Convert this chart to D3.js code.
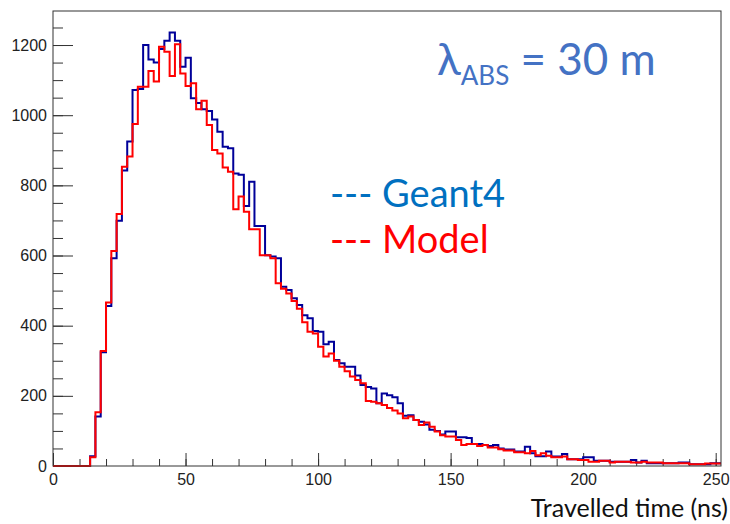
<!DOCTYPE html>
<html>
<head>
<meta charset="utf-8">
<script src="https://cdn.jsdelivr.net/npm/d3@7"></script>
<style>
  body { margin: 0; background: #fff; }
  .tick text { font-family: "Liberation Sans", Arial, sans-serif; font-size: 16px; fill: #222; }
</style>
</head>
<body>
<svg id="chart" width="730" height="524"></svg>
<script>
// histogram content, 2 ns bins starting at 0
var binWidth = 2;
var geant4 = [
  0, 0, 0, 0, 0, 0, 0, 28, 141, 324,
  456, 592, 699, 842, 925, 1072, 1075, 1200, 1159, 1150,
  1189, 1212, 1236, 1212, 1138, 1164, 1048, 1035, 1017, 1012,
  988, 953, 910, 906, 834, 830, 741, 810, 684, 684,
  601, 597, 592, 511, 502, 478, 459, 430, 421, 385,
  383, 347, 354, 302, 293, 283, 283, 258, 231, 225,
  221, 179, 207, 202, 196, 179, 143, 145, 131, 126,
  118, 103, 100, 90, 98, 98, 82, 82, 80, 63,
  63, 60, 57, 60, 50, 47, 47, 41, 41, 55,
  36, 28, 28, 41, 27, 27, 34, 19, 19, 19,
  25, 25, 15, 15, 15, 12, 12, 12, 12, 17,
  10, 15, 8, 8, 8, 8, 8, 8, 10, 10,
  5, 5, 5, 5, 8, 8
];
var model = [
  0, 0, 0, 0, 0, 0, 0, 25, 153, 328,
  466, 613, 718, 853, 882, 975, 1081, 1081, 1126, 1096,
  1195, 1181, 1112, 1202, 1119, 1083, 1091, 1017, 1041, 972,
  901, 891, 851, 839, 732, 768, 725, 675, 675, 601,
  601, 592, 521, 505, 492, 470, 448, 410, 383, 378,
  340, 312, 321, 300, 283, 270, 255, 245, 236, 185,
  183, 179, 174, 165, 158, 150, 136, 141, 131, 117,
  124, 112, 98, 88, 84, 84, 74, 60, 63, 63,
  57, 60, 53, 53, 48, 44, 44, 39, 39, 36,
  43, 31, 36, 29, 25, 25, 27, 19, 19, 17,
  17, 12, 12, 15, 15, 10, 12, 12, 12, 10,
  10, 12, 10, 10, 10, 8, 8, 8, 8, 8,
  5, 5, 5, 7, 7, 7
];
var xTicks = [0, 50, 100, 150, 200, 250];
var yTicks = [0, 200, 400, 600, 800, 1000, 1200];
var xMax = 252, yMax = 1297;

var margin = { top: 11, right: 9, bottom: 58, left: 53 },
  width = 730 - margin.left - margin.right,
  height = 524 - margin.top - margin.bottom;

var svg = d3.select("#chart")
  .append("g")
  .attr("transform", "translate(" + margin.left + "," + margin.top + ")");

var x = d3.scaleLinear().domain([0, xMax]).range([0, width]);
var y = d3.scaleLinear().domain([0, yMax]).range([height, 0]);

// minor ticks first
svg.append("g")
  .attr("transform", "translate(0," + height + ")")
  .call(d3.axisBottom(x).tickValues(d3.range(0, xMax + 1, 10)).tickSizeInner(-7).tickSizeOuter(0).tickFormat(""))
  .call(g => g.select(".domain").remove());
svg.append("g")
  .call(d3.axisLeft(y).tickValues(d3.range(0, yMax, 50)).tickSizeInner(-10).tickSizeOuter(0).tickFormat(""))
  .call(g => g.select(".domain").remove());

// major ticks
svg.append("g")
  .attr("transform", "translate(0," + height + ")")
  .call(d3.axisBottom(x).tickValues(xTicks).tickSizeInner(-13).tickSizeOuter(0).tickPadding(8).tickFormat(d3.format("d")))
  .call(g => g.select(".domain").remove());
svg.append("g")
  .call(d3.axisLeft(y).tickValues(yTicks).tickSizeInner(-20).tickSizeOuter(0).tickPadding(6).tickFormat(d3.format("d")))
  .call(g => g.select(".domain").remove());

svg.selectAll(".tick line").attr("stroke", "#333");

// step histogram path
function stepLine(vals) {
  var pts = [];
  vals.forEach(function (v, i) {
    pts.push([x(i * binWidth), y(v)]);
    pts.push([x((i + 1) * binWidth), y(v)]);
  });
  return d3.line()(pts);
}

svg.append("path")
  .attr("d", stepLine(geant4))
  .attr("fill", "none")
  .attr("stroke", "#000099")
  .attr("stroke-width", 2);

svg.append("path")
  .attr("d", stepLine(model))
  .attr("fill", "none")
  .attr("stroke", "#ff0000")
  .attr("stroke-width", 2);

// frame
svg.append("rect")
  .attr("width", width)
  .attr("height", height)
  .attr("fill", "none")
  .attr("stroke", "#333")
  .attr("stroke-width", 1);

// annotations
var root = d3.select("#chart");
var lam = root.append("text")
  .attr("x", 437).attr("y", 75)
  .attr("font-family", "Lato, 'Open Sans', sans-serif")
  .attr("font-size", 44)
  .attr("fill", "#4472C4");
lam.append("tspan").text("λ");
lam.append("tspan").attr("font-size", 26).attr("dy", 10).text("ABS");
lam.append("tspan").attr("dy", -10).text(" = 30 m");

root.append("text")
  .attr("x", 330).attr("y", 207)
  .attr("font-family", "Lato, 'Open Sans', sans-serif")
  .attr("font-size", 38)
  .attr("fill", "#0070C0")
  .text("--- Geant4");

root.append("text")
  .attr("x", 330).attr("y", 253)
  .attr("font-family", "Lato, 'Open Sans', sans-serif")
  .attr("font-size", 38)
  .attr("fill", "#ff0000")
  .text("--- Model");

root.append("text")
  .attr("x", 728).attr("y", 517)
  .attr("text-anchor", "end")
  .attr("font-family", "Lato, 'Open Sans', sans-serif")
  .attr("font-size", 25)
  .attr("fill", "#111")
  .text("Travelled time (ns)");
</script>
</body>
</html>
